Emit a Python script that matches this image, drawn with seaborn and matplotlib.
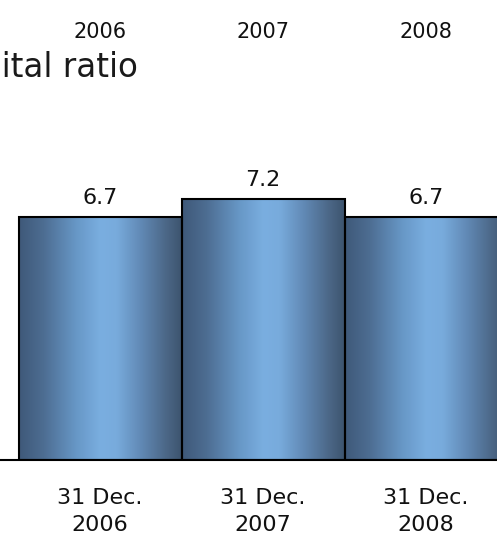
import numpy as np
import pandas as pd
import matplotlib
matplotlib.use("Agg")
import matplotlib.pyplot as plt
import seaborn as sns
from matplotlib.colors import LinearSegmentedColormap

# Capital ratio at year end
dates = ["31 Dec.\n2006", "31 Dec.\n2007", "31 Dec.\n2008"]
years = ["2006", "2007", "2008"]
ratios = [6.7, 7.2, 6.7]
title = "Capital ratio"

sns.set_theme(style="white")
plt.rcParams["font.family"] = ["DejaVu Sans"]

W, H = 497, 549
fig = plt.figure(figsize=(W / 100, H / 100), dpi=100)
ax = fig.add_axes([0, 89 / H, 1, 360 / H])

df = pd.DataFrame({"date": dates, "ratio": ratios})
sns.barplot(data=df, x="date", y="ratio", width=1.0, color="#5b86b3",
            saturation=1, edgecolor="black", linewidth=1.5, ax=ax)

xlim = (-100 / 163, 397 / 163)
ylim = (0, 360 / 36.3)

# horizontal metallic shading inside each bar
shade = LinearSegmentedColormap.from_list(
    "steel",
    [(0.0, "#3f5979"), (0.15, "#4d6d92"), (0.35, "#6797c6"),
     (0.5, "#7aaee0"), (0.6, "#78abdc"), (0.75, "#6189b5"),
     (0.9, "#4c6888"), (1.0, "#3d546e")])
grad = np.linspace(0, 1, 256).reshape(1, -1)
for patch in ax.patches:
    x0, y0 = patch.get_x(), patch.get_y()
    w, h = patch.get_width(), patch.get_height()
    im = ax.imshow(grad, cmap=shade, extent=(x0, x0 + w, y0, y0 + h),
                   aspect="auto", zorder=2, interpolation="bilinear")
    im.set_clip_path(patch)
    patch.set_facecolor("none")
    patch.set_zorder(3)

ax.set_xlim(*xlim)
ax.set_ylim(*ylim)

for c in ax.containers:
    ax.bar_label(c, fmt="%.1f", padding=6, fontsize=16, color="#111111")

for s in ["left", "right", "top"]:
    ax.spines[s].set_visible(False)
ax.spines["bottom"].set_color("black")
ax.spines["bottom"].set_linewidth(1.5)
ax.set_yticks([])
ax.set_xlabel("")
ax.set_ylabel("")
ax.tick_params(axis="x", length=0, pad=20, labelsize=16, labelcolor="#111111")
for lab in ax.get_xticklabels():
    lab.set_linespacing(1.48)

# column headers above the chart
for i, yr in enumerate(years):
    xd = ax.transData.transform((i, 0))[0]
    fig.text(xd / W, 1 - 32 / H, yr, ha="center", va="center",
             fontsize=15, color="#111111")

# chart title, running off the left edge of the canvas
fig.text(138 / W, 1 - 67 / H, title, ha="right", va="center",
         fontsize=23.5, color="#1a1a1a")

fig.savefig("out.png", dpi=100)
